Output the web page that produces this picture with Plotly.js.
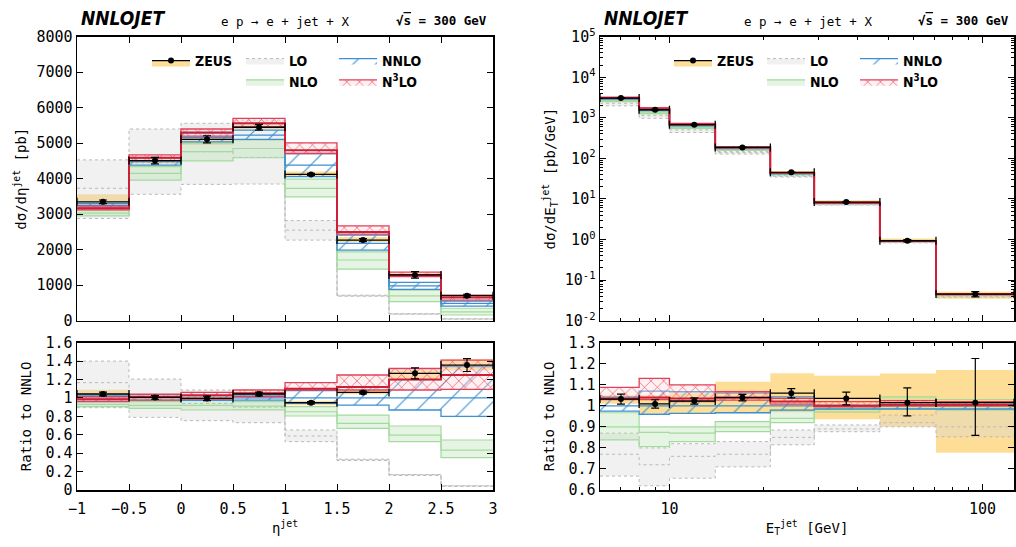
<!DOCTYPE html>
<html>
<head>
<meta charset="utf-8">
<script src="https://cdn.plot.ly/plotly-3.0.1.min.js"></script>
<style>html,body{margin:0;padding:0;background:#fff;} #chart{width:1016px;height:547px;}</style>
</head>
<body>
<div id="chart"></div>
<script>
// ---------------- DATA : eta^jet distribution ----------------
const etaEdges   = [-1, -0.5, 0, 0.5, 1, 1.5, 2, 2.5, 3];
const etaPoints  = [-0.75, -0.25, 0.25, 0.75, 1.25, 1.75, 2.25, 2.75];

const zeusEta      = [3350, 4510, 5110, 5450, 4120, 2270, 1290, 705];
const zeusEtaStat  = [50, 90, 100, 80, 30, 40, 90, 40];
const zeusEtaSysLo = [3300, 4430, 4950, 5390, 4060, 2220, 1230, 680];
const zeusEtaSysHi = [3560, 4620, 5180, 5540, 4200, 2350, 1340, 730];

const loEtaLo   = [2880, 3560, 3840, 3850, 2270, 690, 185, 45];
const loEtaC    = [3730, 4450, 4760, 4600, 2550, 700, 190, 50];
const loEtaHi   = [4530, 5400, 5560, 5650, 2820, 720, 195, 52];
const nloEtaLo  = [2950, 3960, 4500, 4590, 3490, 1450, 540, 160];
const nloEtaC   = [3030, 4150, 4760, 4850, 3730, 1710, 700, 250];
const nloEtaHi  = [3120, 4340, 5000, 5090, 3990, 1940, 860, 350];
const nnloEtaLo = [3190, 4380, 5040, 5110, 4060, 1990, 880, 410];
const nnloEtaC  = [3250, 4480, 5160, 5230, 4380, 2180, 980, 490];
const nnloEtaHi = [3300, 4570, 5280, 5370, 4710, 2410, 1080, 550];
const n3loEtaLo = [3120, 4510, 5200, 5460, 4710, 2440, 1240, 580];
const n3loEtaC  = [3170, 4590, 5300, 5560, 4800, 2500, 1290, 650];
const n3loEtaHi = [3230, 4670, 5400, 5700, 5010, 2670, 1370, 720];

// ratio to NNLO (eta)
const rZeusEta      = [1.043, 1.006, 0.995, 1.043, 0.948, 1.06, 1.267, 1.357];
const rZeusEtaErr   = [0.02, 0.02, 0.025, 0.02, 0.012, 0.015, 0.06, 0.07];
const rZeusEtaSysLo = [1.01, 0.98, 0.97, 1.015, 0.92, 1.04, 1.21, 1.30];
const rZeusEtaSysHi = [1.09, 1.03, 1.03, 1.07, 0.97, 1.08, 1.30, 1.42];
const rLoEtaLo   = [0.894, 0.789, 0.753, 0.731, 0.525, 0.32, 0.158, 0.04];
const rLoEtaC    = [1.166, 1.01, 0.94, 0.90, 0.586, 0.326, 0.163, 0.043];
const rLoEtaHi   = [1.40, 1.205, 1.086, 1.06, 0.652, 0.335, 0.168, 0.046];
const rNloEtaLo  = [0.905, 0.887, 0.869, 0.87, 0.804, 0.67, 0.525, 0.351];
const rNloEtaC   = [0.93, 0.92, 0.92, 0.91, 0.85, 0.724, 0.597, 0.434];
const rNloEtaHi  = [0.96, 0.96, 0.977, 0.96, 0.905, 0.814, 0.695, 0.543];
const rNnloEtaLo = [0.98, 0.977, 0.975, 0.977, 0.94, 0.923, 0.869, 0.80];
const rNnloEtaC  = [1, 1, 1, 1, 1, 1, 1, 1];
const rNnloEtaHi = [1.03, 1.02, 1.025, 1.025, 1.08, 1.12, 1.2, 1.34];
const rN3loEtaLo = [0.96, 0.977, 0.988, 1.014, 1.086, 1.086, 1.086, 1.093];
const rN3loEtaC  = [0.985, 1.01, 1.03, 1.05, 1.10, 1.12, 1.2, 1.25];
const rN3loEtaHi = [1.015, 1.04, 1.06, 1.086, 1.166, 1.249, 1.32, 1.41];

// ---------------- DATA : E_T^jet distribution ----------------
const etEdges  = [6, 8, 10, 14, 21, 29, 47, 71, 126];
const etPoints = [7, 9, 12, 17.1, 24.5, 36.7, 57.5, 94.8];

const zeusEt      = [3076, 1585, 678, 187, 45.3, 8.4, 0.935, 0.0453];
const zeusEtStat  = [72, 31, 10, 2.7, 0.85, 0.24, 0.064, 0.0067];
const zeusEtSysLo = [3010, 1515, 640, 174, 41.4, 7.58, 0.828, 0.0347];
const zeusEtSysHi = [3130, 1648, 703, 201, 49.3, 9.26, 1.06, 0.0522];

const loEtLo   = [1985, 973, 435, 128, 34.8, 7.1, 0.828, 0.038];
const loEtC    = [2295, 1130, 504, 139, 36.3, 7.21, 0.846, 0.0401];
const loEtHi   = [2593, 1256, 544, 149, 37.8, 7.36, 0.88, 0.0438];
const nloEtLo  = [2497, 1265, 550, 158, 39.3, 7.86, 0.908, 0.0437];
const nloEtC   = [2682, 1372, 577, 162, 40.1, 7.98, 0.92, 0.0446];
const nloEtHi  = [2882, 1413, 597, 167, 41.8, 8.12, 0.96, 0.0459];
const nnloEtLo = [2906, 1507, 639, 174, 41.8, 7.98, 0.906, 0.0439];
const nnloEtC  = [2980, 1570, 663, 180, 42.7, 8.1, 0.92, 0.0446];
const nnloEtHi = [3108, 1680, 707, 191, 44.5, 8.12, 0.923, 0.0447];
const n3loEtLo = [3069, 1617, 676, 185, 43.0, 8.06, 0.92, 0.0446];
const n3loEtC  = [3084, 1633, 686, 187, 43.6, 8.1, 0.925, 0.0448];
const n3loEtHi = [3242, 1774, 729, 192, 44.2, 8.26, 0.943, 0.0455];

// ratio to NNLO (E_T)
const rZeusEt       = [1.032, 1.009, 1.023, 1.039, 1.06, 1.035, 1.015, 1.015];
const rZeusEtErrUp  = [0.024, 0.02, 0.015, 0.015, 0.022, 0.03, 0.07, 0.21];
const rZeusEtErrDn  = [0.024, 0.02, 0.015, 0.015, 0.022, 0.03, 0.063, 0.155];
const rZeusEtSysLo  = [1.01, 0.965, 0.965, 0.965, 0.97, 0.936, 0.90, 0.777];
const rZeusEtSysHi  = [1.05, 1.05, 1.06, 1.115, 1.155, 1.143, 1.154, 1.17];
const rLoEtLo   = [0.666, 0.62, 0.656, 0.71, 0.815, 0.877, 0.90, 0.853];
const rLoEtC    = [0.77, 0.72, 0.76, 0.77, 0.85, 0.89, 0.92, 0.9];
const rLoEtHi   = [0.87, 0.80, 0.82, 0.83, 0.885, 0.909, 0.956, 0.983];
const rNloEtLo  = [0.838, 0.806, 0.83, 0.877, 0.92, 0.97, 0.987, 0.98];
const rNloEtC   = [0.90, 0.874, 0.87, 0.90, 0.94, 0.985, 1.0, 1.0];
const rNloEtHi  = [0.967, 0.90, 0.90, 0.925, 0.98, 1.003, 1.043, 1.03];
const rNnloEtLo = [0.975, 0.96, 0.964, 0.967, 0.98, 0.985, 0.985, 0.985];
const rNnloEtC  = [1, 1, 1, 1, 1, 1, 1, 1];
const rNnloEtHi = [1.043, 1.07, 1.067, 1.06, 1.043, 1.003, 1.003, 1.003];
const rN3loEtLo = [1.03, 1.03, 1.02, 1.027, 1.008, 0.995, 1.0, 1.0];
const rN3loEtC  = [1.035, 1.04, 1.035, 1.04, 1.02, 1.0, 1.005, 1.005];
const rN3loEtHi = [1.088, 1.13, 1.10, 1.067, 1.035, 1.02, 1.025, 1.02];

// tick labels
const logYTickVals = [0.01, 0.1, 1, 10, 100, 1000, 10000, 100000];
const logYTickText = ['10<sup>-2</sup>', '10<sup>-1</sup>', '10<sup>0</sup>', '10<sup>1</sup>', '10<sup>2</sup>', '10<sup>3</sup>', '10<sup>4</sup>', '10<sup>5</sup>'];
const logXTickVals = [10, 100];
const logXTickText = ['10', '100'];

// ---------------- STYLE ----------------
const W = 1016, H = 547;
const MONO = 'DejaVu Sans Mono, monospace';
const NARROW = 'Liberation Sans Narrow, DejaVu Sans Condensed, Liberation Sans, sans-serif';
const S = {
  lo:   {line:'#b9b9b9', width:1, dash:'dot', fill:'rgba(215,215,215,0.35)'},
  nlo:  {line:'#a3da9e', width:1.2, fill:'rgba(165,218,155,0.28)'},
  nnlo: {line:'#3b8fd2', width:1.3, fill:'rgba(0,0,0,0)',
         pattern:{shape:'/', fgcolor:'#3b8fd2', bgcolor:'rgba(255,255,255,0)', size:16, solidity:0.07}},
  n3lo: {line:'#e2405a', width:1.3, fill:'rgba(240,120,130,0.15)',
         pattern:{shape:'x', fgcolor:'#e2405a', bgcolor:'rgba(255,215,215,0.35)', size:9, solidity:0.13},
         cline:'#cc1f38', cwidth:2},
  zeusFill:'rgba(253,205,95,0.65)'
};

function stepY(v){ return v.concat([v[v.length-1]]); }
function interleave(a){ const r=[]; a.forEach(v=>{ r.push(v); r.push(null); }); return r; }

const traces = [];
function addBand(edges, lo, c, hi, st, xa, ya, leg){
  const base = {x: edges, mode:'lines', xaxis:xa, yaxis:ya, hoverinfo:'skip', showlegend:false};
  const ln = {shape:'hv', color:st.line, width:st.width, dash:st.dash||'solid'};
  traces.push(Object.assign({}, base, {y: stepY(lo), line: ln}));
  const up = Object.assign({}, base, {y: stepY(hi), line: ln, fill:'tonexty', fillcolor: st.fill});
  if (st.pattern) up.fillpattern = st.pattern;
  if (leg){ up.showlegend = true; up.name = leg.name; up.legend = leg.legend; }
  traces.push(up);
  if (c) traces.push(Object.assign({}, base, {y: stepY(c),
      line:{shape:'hv', color: st.cline||st.line, width: st.cwidth||st.width, dash: st.dash||'solid'}}));
}
function addSys(edges, lo, hi, xa, ya){
  const base = {x: edges, mode:'lines', xaxis:xa, yaxis:ya, hoverinfo:'skip', showlegend:false,
                line:{shape:'hv', width:0, color:'rgba(0,0,0,0)'}};
  traces.push(Object.assign({}, base, {y: stepY(lo)}));
  traces.push(Object.assign({}, base, {y: stepY(hi), fill:'tonexty', fillcolor:S.zeusFill}));
}
function addPoints(edges, pts, vals, errUp, errDn, xa, ya, leg){
  const xPlus = pts.map((p,i)=> edges[i+1]-p);
  const xMinus = pts.map((p,i)=> p-edges[i]);
  const t = {
    x: interleave(pts), y: interleave(vals), xaxis:xa, yaxis:ya,
    mode:'lines+markers', fill:'toself', fillcolor:S.zeusFill,
    line:{color:'#000', width:1.4},
    marker:{color:'#000', size:6},
    error_x:{type:'data', symmetric:false, array: interleave(xPlus), arrayminus: interleave(xMinus), color:'#000', thickness:1.3, width:4},
    error_y:{type:'data', symmetric:false, array: interleave(errUp), arrayminus: interleave(errDn), color:'#000', thickness:1.2, width:4},
    hoverinfo:'skip', showlegend:false
  };
  if (leg){ t.showlegend = true; t.name = leg.name; t.legend = leg.legend; }
  traces.push(t);
}

// ---- panel 1: eta main
addSys(etaEdges, zeusEtaSysLo, zeusEtaSysHi, 'x', 'y');
addBand(etaEdges, loEtaLo, loEtaC, loEtaHi, S.lo, 'x', 'y', {name:'LO', legend:'legend2'});
addBand(etaEdges, nloEtaLo, nloEtaC, nloEtaHi, S.nlo, 'x', 'y', {name:'NLO', legend:'legend2'});
addBand(etaEdges, nnloEtaLo, nnloEtaC, nnloEtaHi, S.nnlo, 'x', 'y', {name:'NNLO', legend:'legend3'});
addBand(etaEdges, n3loEtaLo, n3loEtaC, n3loEtaHi, S.n3lo, 'x', 'y', {name:'N<sup>3</sup>LO', legend:'legend3'});
addPoints(etaEdges, etaPoints, zeusEta, zeusEtaStat, zeusEtaStat, 'x', 'y', {name:'ZEUS', legend:'legend'});

// ---- panel 2: eta ratio
addSys(etaEdges, rZeusEtaSysLo, rZeusEtaSysHi, 'x2', 'y2');
addBand(etaEdges, rLoEtaLo, rLoEtaC, rLoEtaHi, S.lo, 'x2', 'y2');
addBand(etaEdges, rNloEtaLo, rNloEtaC, rNloEtaHi, S.nlo, 'x2', 'y2');
addBand(etaEdges, rNnloEtaLo, rNnloEtaC, rNnloEtaHi, S.nnlo, 'x2', 'y2');
addBand(etaEdges, rN3loEtaLo, rN3loEtaC, rN3loEtaHi, S.n3lo, 'x2', 'y2');
addPoints(etaEdges, etaPoints, rZeusEta, rZeusEtaErr, rZeusEtaErr, 'x2', 'y2');

// ---- panel 3: ET main
addSys(etEdges, zeusEtSysLo, zeusEtSysHi, 'x3', 'y3');
addBand(etEdges, loEtLo, loEtC, loEtHi, S.lo, 'x3', 'y3', {name:'LO', legend:'legend5'});
addBand(etEdges, nloEtLo, nloEtC, nloEtHi, S.nlo, 'x3', 'y3', {name:'NLO', legend:'legend5'});
addBand(etEdges, nnloEtLo, nnloEtC, nnloEtHi, S.nnlo, 'x3', 'y3', {name:'NNLO', legend:'legend6'});
addBand(etEdges, n3loEtLo, n3loEtC, n3loEtHi, S.n3lo, 'x3', 'y3', {name:'N<sup>3</sup>LO', legend:'legend6'});
addPoints(etEdges, etPoints, zeusEt, zeusEtStat, zeusEtStat, 'x3', 'y3', {name:'ZEUS', legend:'legend4'});

// ---- panel 4: ET ratio
addSys(etEdges, rZeusEtSysLo, rZeusEtSysHi, 'x4', 'y4');
addBand(etEdges, rLoEtLo, rLoEtC, rLoEtHi, S.lo, 'x4', 'y4');
addBand(etEdges, rNloEtLo, rNloEtC, rNloEtHi, S.nlo, 'x4', 'y4');
addBand(etEdges, rNnloEtLo, rNnloEtC, rNnloEtHi, S.nnlo, 'x4', 'y4');
addBand(etEdges, rN3loEtLo, rN3loEtC, rN3loEtHi, S.n3lo, 'x4', 'y4');
addPoints(etEdges, etPoints, rZeusEt, rZeusEtErrUp, rZeusEtErrDn, 'x4', 'y4');

// ---------------- LAYOUT ----------------
const px2x = p => p / W;
const px2y = p => 1 - p / H;
const xL = [px2x(77), px2x(493)], xR = [px2x(600), px2x(1014)];
const yT = [px2y(320.7), px2y(36.7)], yB = [px2y(490), px2y(342.7)];

const axBase = {showline:true, linecolor:'#000', linewidth:1.5, mirror:'ticks', ticks:'inside',
  ticklen:6, tickwidth:1, tickcolor:'#000', showgrid:false, zeroline:false,
  tickfont:{family:MONO, size:15, color:'#000'}};
const titleFont = {family:MONO, size:14, color:'#000'};

const minorLogX = [], minorLogY = [];
[0, 1].forEach(d => { for (let m = 2; m <= 9; m++) minorLogX.push(m * Math.pow(10, d)); });
for (let d = -2; d <= 4; d++) for (let m = 2; m <= 9; m++) minorLogY.push(m * Math.pow(10, d));
const minorX = {ticks:'inside', ticklen:3, tickcolor:'#000', tickmode:'array', tickvals:minorLogX, showgrid:false};
const minorY = {ticks:'inside', ticklen:3, tickcolor:'#000', tickmode:'array', tickvals:minorLogY, showgrid:false};
const etRange = [Math.log10(etEdges[0]), Math.log10(etEdges[etEdges.length-1])];

function legendAt(xp, yp){
  return {x:px2x(xp), y:px2y(yp), xanchor:'left', yanchor:'top', bgcolor:'rgba(0,0,0,0)', borderwidth:0,
    font:{family:NARROW, size:14, color:'#000', weight:'bold'}, itemwidth:38, tracegroupgap:0,
    traceorder:'normal', itemclick:false, itemdoubleclick:false, orientation:'v'};
}

const layout = {
  width:W, height:H, margin:{l:0, r:0, t:0, b:0}, paper_bgcolor:'#fff', plot_bgcolor:'#fff',
  showlegend:true,
  xaxis: Object.assign({}, axBase, {domain:xL, range:[etaEdges[0], etaEdges[8]], dtick:0.5, anchor:'y', showticklabels:false}),
  yaxis: Object.assign({}, axBase, {domain:yT, range:[0, 8000], dtick:1000, anchor:'x',
          title:{text:'dσ/dη<sup>jet</sup> [pb]', font:titleFont, standoff:6}}),
  xaxis2: Object.assign({}, axBase, {domain:xL, range:[etaEdges[0], etaEdges[8]], dtick:0.5, anchor:'y2',
          ticklabelstandoff:4, title:{text:'η<sup>jet</sup>', font:titleFont, standoff:6}}),
  yaxis2: Object.assign({}, axBase, {domain:yB, range:[0, 1.6], dtick:0.2, anchor:'x2',
          title:{text:'Ratio to NNLO', font:titleFont, standoff:10}}),
  xaxis3: Object.assign({}, axBase, {domain:xR, type:'log', range:etRange, anchor:'y3', showticklabels:false,
          tickmode:'array', tickvals:logXTickVals, ticktext:logXTickText, minor:minorX}),
  yaxis3: Object.assign({}, axBase, {domain:yT, type:'log', range:[-2, 5], anchor:'x3',
          tickmode:'array', tickvals:logYTickVals, ticktext:logYTickText, minor:minorY,
          title:{text:'dσ/dE<sub>T</sub><sup>jet</sup> [pb/GeV]', font:titleFont, standoff:6}}),
  xaxis4: Object.assign({}, axBase, {domain:xR, type:'log', range:etRange, anchor:'y4',
          tickmode:'array', tickvals:logXTickVals, ticktext:logXTickText, minor:minorX,
          ticklabelstandoff:4, title:{text:'E<sub>T</sub><sup>jet</sup> [GeV]', font:titleFont, standoff:6}}),
  yaxis4: Object.assign({}, axBase, {domain:yB, range:[0.6, 1.3], dtick:0.1, anchor:'x4',
          title:{text:'Ratio to NNLO', font:titleFont, standoff:10}}),
  legend:  legendAt(147, 45),
  legend2: legendAt(241, 45),
  legend3: legendAt(334, 45),
  legend4: legendAt(669, 45),
  legend5: legendAt(762, 45),
  legend6: legendAt(855, 45),
  annotations: []
};

function header(x0, xc, x1){
  layout.annotations.push(
    {text:'<b><i>NNLOJET</i></b>', x:px2x(x0), y:px2y(18), xref:'paper', yref:'paper', xanchor:'left', yanchor:'middle',
     showarrow:false, font:{family:NARROW, size:19, color:'#000'}},
    {text:'e p → e + jet + X', x:px2x(xc), y:px2y(21), xref:'paper', yref:'paper', xanchor:'center', yanchor:'middle',
     showarrow:false, font:{family:MONO, size:12.5, color:'#000'}},
    {text:'<b>√<span style="text-decoration:overline">s</span> = 300 GeV</b>', x:px2x(x1), y:px2y(20), xref:'paper', yref:'paper',
     xanchor:'right', yanchor:'middle', showarrow:false, font:{family:MONO, size:12.5, color:'#000'}}
  );
}
header(79, 285, 489);
header(602, 808, 1011);

Plotly.newPlot('chart', traces, layout, {displayModeBar:false, staticPlot:true});
</script>
</body>
</html>
